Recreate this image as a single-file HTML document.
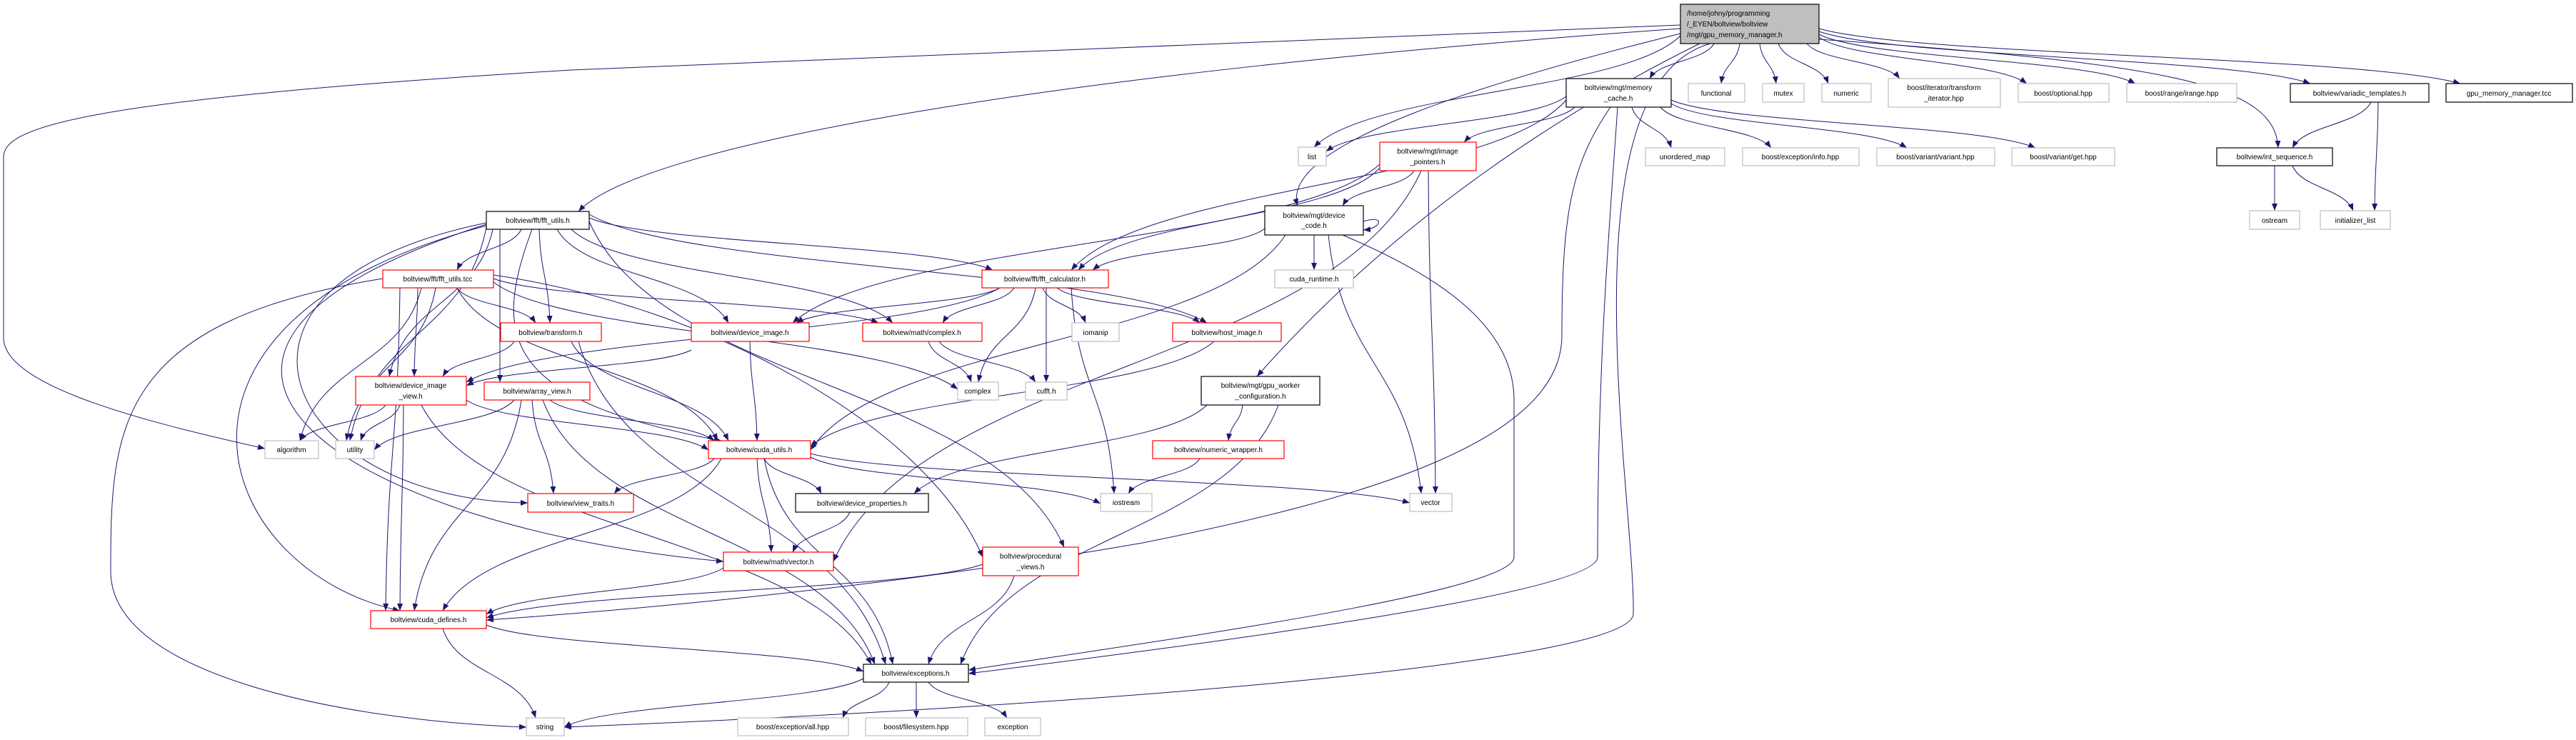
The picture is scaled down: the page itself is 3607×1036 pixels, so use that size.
<!DOCTYPE html>
<html><head><meta charset="utf-8"><style>
html,body{margin:0;padding:0;background:#fff;}
svg{display:block;}
text{font-family:"Liberation Sans",Arial,sans-serif;font-size:10px;fill:#000;}
</style></head><body>
<svg id="g" width="3607" height="1036" viewBox="0 0 3607 1036" xmlns="http://www.w3.org/2000/svg">
<defs><marker id="a" markerUnits="userSpaceOnUse" markerWidth="12" markerHeight="10" refX="10" refY="4" orient="auto"><path d="M0,0 L10,4 L0,8 z" fill="#191970"/></marker></defs>
<g id="edges" fill="none" stroke="#191970" stroke-width="1"></g>
<g id="nodes" stroke-width="1.2">
<rect x="2353" y="6" width="194" height="55" fill="#bfbfbf" stroke="#000"/>
<text x="2362" y="22">/home/johny/programming</text><text x="2362" y="37">/_EYEN/boltview/boltview</text><text x="2362" y="52">/mgt/gpu_memory_manager.h</text>

<rect x="2193" y="110" width="147" height="40" fill="#fff" stroke="#000"/><text x="2266" y="126" text-anchor="middle">boltview/mgt/memory</text><text x="2266" y="141" text-anchor="middle">_cache.h</text>
<rect x="2364" y="117" width="79" height="26" fill="#fff" stroke="#bfbfbf"/><text x="2403" y="134" text-anchor="middle">functional</text>
<rect x="2468" y="117" width="58" height="26" fill="#fff" stroke="#bfbfbf"/><text x="2497" y="134" text-anchor="middle">mutex</text>
<rect x="2551" y="117" width="69" height="26" fill="#fff" stroke="#bfbfbf"/><text x="2585" y="134" text-anchor="middle">numeric</text>
<rect x="2644" y="110" width="157" height="40" fill="#fff" stroke="#bfbfbf"/><text x="2722" y="126" text-anchor="middle">boost/iterator/transform</text><text x="2722" y="141" text-anchor="middle">_iterator.hpp</text>
<rect x="2826" y="117" width="127" height="26" fill="#fff" stroke="#bfbfbf"/><text x="2889" y="134" text-anchor="middle">boost/optional.hpp</text>
<rect x="2978" y="117" width="154" height="26" fill="#fff" stroke="#bfbfbf"/><text x="3055" y="134" text-anchor="middle">boost/range/irange.hpp</text>
<rect x="3207" y="117" width="194" height="26" fill="#fff" stroke="#000"/><text x="3304" y="134" text-anchor="middle">boltview/variadic_templates.h</text>
<rect x="3425" y="117" width="177" height="26" fill="#fff" stroke="#000"/><text x="3513" y="134" text-anchor="middle">gpu_memory_manager.tcc</text>

<rect x="1818" y="206" width="39" height="26" fill="#fff" stroke="#bfbfbf"/><text x="1837" y="223" text-anchor="middle">list</text>
<rect x="1932" y="199" width="135" height="40" fill="#fff" stroke="#f00"/><text x="1999" y="215" text-anchor="middle">boltview/mgt/image</text><text x="1999" y="230" text-anchor="middle">_pointers.h</text>
<rect x="2304" y="207" width="111" height="25" fill="#fff" stroke="#bfbfbf"/><text x="2359" y="223" text-anchor="middle">unordered_map</text>
<rect x="2440" y="207" width="163" height="25" fill="#fff" stroke="#bfbfbf"/><text x="2521" y="223" text-anchor="middle">boost/exception/info.hpp</text>
<rect x="2628" y="207" width="165" height="25" fill="#fff" stroke="#bfbfbf"/><text x="2710" y="223" text-anchor="middle">boost/variant/variant.hpp</text>
<rect x="2817" y="207" width="144" height="25" fill="#fff" stroke="#bfbfbf"/><text x="2889" y="223" text-anchor="middle">boost/variant/get.hpp</text>
<rect x="3104" y="207" width="162" height="25" fill="#fff" stroke="#000"/><text x="3185" y="223" text-anchor="middle">boltview/int_sequence.h</text>
<rect x="3150" y="295" width="70" height="26" fill="#fff" stroke="#bfbfbf"/><text x="3185" y="312" text-anchor="middle">ostream</text>
<rect x="3249" y="295" width="98" height="26" fill="#fff" stroke="#bfbfbf"/><text x="3298" y="312" text-anchor="middle">initializer_list</text>

<rect x="1771" y="288" width="138" height="41" fill="#fff" stroke="#000"/><text x="1840" y="305" text-anchor="middle">boltview/mgt/device</text><text x="1840" y="319" text-anchor="middle">_code.h</text>
<rect x="681" y="296" width="144" height="25" fill="#fff" stroke="#000"/><text x="753" y="312" text-anchor="middle">boltview/fft/fft_utils.h</text>
<rect x="536" y="378" width="155" height="25" fill="#fff" stroke="#f00"/><text x="613" y="394" text-anchor="middle">boltview/fft/fft_utils.tcc</text>
<rect x="1375" y="378" width="177" height="25" fill="#fff" stroke="#f00"/><text x="1463" y="394" text-anchor="middle">boltview/fft/fft_calculator.h</text>
<rect x="1785" y="378" width="110" height="25" fill="#fff" stroke="#bfbfbf"/><text x="1840" y="394" text-anchor="middle">cuda_runtime.h</text>

<rect x="701" y="452" width="141" height="26" fill="#fff" stroke="#f00"/><text x="771" y="469" text-anchor="middle">boltview/transform.h</text>
<rect x="968" y="452" width="165" height="26" fill="#fff" stroke="#f00"/><text x="1050" y="469" text-anchor="middle">boltview/device_image.h</text>
<rect x="1208" y="452" width="167" height="26" fill="#fff" stroke="#f00"/><text x="1291" y="469" text-anchor="middle">boltview/math/complex.h</text>
<rect x="1501" y="452" width="66" height="26" fill="#fff" stroke="#bfbfbf"/><text x="1534" y="469" text-anchor="middle">iomanip</text>
<rect x="1642" y="452" width="152" height="26" fill="#fff" stroke="#f00"/><text x="1718" y="469" text-anchor="middle">boltview/host_image.h</text>

<rect x="498" y="527" width="155" height="40" fill="#fff" stroke="#f00"/><text x="575" y="543" text-anchor="middle">boltview/device_image</text><text x="575" y="558" text-anchor="middle">_view.h</text>
<rect x="678" y="535" width="148" height="25" fill="#fff" stroke="#f00"/><text x="752" y="551" text-anchor="middle">boltview/array_view.h</text>
<rect x="1341" y="535" width="57" height="25" fill="#fff" stroke="#bfbfbf"/><text x="1369" y="551" text-anchor="middle">complex</text>
<rect x="1436" y="535" width="58" height="25" fill="#fff" stroke="#bfbfbf"/><text x="1465" y="551" text-anchor="middle">cufft.h</text>
<rect x="1682" y="527" width="166" height="40" fill="#fff" stroke="#000"/><text x="1765" y="543" text-anchor="middle">boltview/mgt/gpu_worker</text><text x="1765" y="558" text-anchor="middle">_configuration.h</text>

<rect x="371" y="617" width="75" height="25" fill="#fff" stroke="#bfbfbf"/><text x="408" y="633" text-anchor="middle">algorithm</text>
<rect x="470" y="617" width="54" height="25" fill="#fff" stroke="#bfbfbf"/><text x="497" y="633" text-anchor="middle">utility</text>
<rect x="992" y="617" width="143" height="25" fill="#fff" stroke="#f00"/><text x="1063" y="633" text-anchor="middle">boltview/cuda_utils.h</text>
<rect x="1614" y="617" width="184" height="25" fill="#fff" stroke="#f00"/><text x="1706" y="633" text-anchor="middle">boltview/numeric_wrapper.h</text>

<rect x="739" y="691" width="148" height="26" fill="#fff" stroke="#f00"/><text x="813" y="708" text-anchor="middle">boltview/view_traits.h</text>
<rect x="1114" y="691" width="186" height="26" fill="#fff" stroke="#000"/><text x="1207" y="708" text-anchor="middle">boltview/device_properties.h</text>
<rect x="1541" y="691" width="72" height="25" fill="#fff" stroke="#bfbfbf"/><text x="1577" y="707" text-anchor="middle">iostream</text>
<rect x="1974" y="691" width="59" height="25" fill="#fff" stroke="#bfbfbf"/><text x="2003" y="707" text-anchor="middle">vector</text>

<rect x="1013" y="773" width="154" height="26" fill="#fff" stroke="#f00"/><text x="1090" y="790" text-anchor="middle">boltview/math/vector.h</text>
<rect x="1376" y="766" width="134" height="40" fill="#fff" stroke="#f00"/><text x="1443" y="782" text-anchor="middle">boltview/procedural</text><text x="1443" y="797" text-anchor="middle">_views.h</text>
<rect x="519" y="855" width="162" height="25" fill="#fff" stroke="#f00"/><text x="600" y="871" text-anchor="middle">boltview/cuda_defines.h</text>
<rect x="1209" y="930" width="147" height="25" fill="#fff" stroke="#000"/><text x="1282" y="946" text-anchor="middle">boltview/exceptions.h</text>
<rect x="737" y="1005" width="53" height="25" fill="#fff" stroke="#bfbfbf"/><text x="763" y="1021" text-anchor="middle">string</text>
<rect x="1033" y="1005" width="155" height="25" fill="#fff" stroke="#bfbfbf"/><text x="1110" y="1021" text-anchor="middle">boost/exception/all.hpp</text>
<rect x="1212" y="1005" width="143" height="25" fill="#fff" stroke="#bfbfbf"/><text x="1283" y="1021" text-anchor="middle">boost/filesystem.hpp</text>
<rect x="1379" y="1005" width="78" height="25" fill="#fff" stroke="#bfbfbf"/><text x="1418" y="1021" text-anchor="middle">exception</text>
</g>
</svg>
<script>
var E=document.getElementById('edges'),NS='http://www.w3.org/2000/svg';
function P(d){var p=document.createElementNS(NS,'path');p.setAttribute('d',d);p.setAttribute('marker-end','url(#a)');E.appendChild(p);}
function e(x1,y1,x2,y2){var dx=x2-x1,dy=y2-y1;P('M'+x1+','+y1+' C'+(x1+dx*0.15)+','+(y1+dy*0.5)+' '+(x2-dx*0.15)+','+(y2-dy*0.5)+' '+x2+','+y2);}
var L=[
[2400,61,2310,110],[2436,61,2410,117],[2464,61,2487,117],[2490,61,2560,117],[2530,61,2660,110],
[2547,52,2838,117],[2547,48,2990,117],[2547,44,3235,117],[2547,40,3445,117],[2353,50,1840,206],
[2193,135,1857,212],[2205,150,2050,199],[2285,150,2340,207],[2325,150,2480,207],[2340,145,2670,207],[2340,140,2850,207],
[3320,143,3210,207],[3330,143,3325,295],[3185,232,3185,295],[3210,232,3295,295],
[730,321,640,378],[755,321,770,452],[780,321,1020,452],[800,321,1250,452],[825,305,1390,378],[825,300,1690,452],
[690,321,545,527],[700,321,700,535],[681,318,490,617],[825,310,1490,766],
[585,403,580,527],[640,403,750,452],[691,395,1341,545],[691,390,1230,452],[640,403,1005,617],[590,403,420,617],[610,403,485,617],[560,403,540,855],
[720,478,620,527],[800,478,1020,617],[810,478,1240,930],[1050,478,1060,617],[968,490,653,540],
[1300,478,1360,535],[1315,478,1450,535],[1400,403,1115,452],[1480,403,1680,452],[1420,403,1320,452],[1460,403,1520,452],[1465,403,1465,535],[1450,403,1370,535],[1400,403,653,535],[1500,403,1560,691],
[1771,320,1530,378],[1840,329,1840,378],[1860,329,1990,691],[1800,329,1135,630],
[1980,239,1880,288],[2000,239,2010,691],[1932,235,1510,378],[1990,239,1167,786],[1932,230,1110,452],[2193,140,1500,378],
[1700,478,1135,625],[1740,567,1720,617],[1790,567,1345,930],[1690,567,1280,691],[1680,642,1580,691],
[540,567,420,617],[560,567,505,617],[653,560,992,630],[565,567,560,855],[590,567,1220,930],
[720,560,524,630],[770,560,1000,617],[745,560,775,691],[730,560,580,855],[760,560,1225,930],
[1000,642,860,691],[1070,642,1150,691],[1135,640,1541,705],[1135,635,1974,704],[1060,642,1080,773],[1070,642,1250,930],[1010,642,620,855],
[1190,717,1110,773],[1013,795,681,860],[1376,790,681,865],[1420,806,1300,930],
[620,880,750,1005],[681,875,1209,940],[1209,950,790,1018],[1245,955,1180,1005],[1283,955,1283,1005],[1300,955,1410,1005]
];
L.forEach(function(a){e(a[0],a[1],a[2],a[3]);});
[
'M2353,35 L800,98 C100,140 5,180 5,220 L5,473 C5,540 200,590 371,628',
'M2353,40 C1500,100 900,200 810,296',
'M2353,47 C2100,110 1790,200 1817,288',
'M2380,61 C2200,150 1960,300 1760,527',
'M2547,55 C3050,90 3185,120 3190,207',
'M2395,61 C2185,120 2290,700 2287,860 C2280,930 1500,990 790,1018',
'M2265,150 C2255,300 2237,500 2237,780 C2237,830 1700,900 1356,943',
'M2255,150 C2200,230 2187,300 2187,470 C2187,620 1900,700 1600,760 C1200,830 800,860 681,868',
'M1880,329 C2000,380 2120,450 2120,560 L2120,780 C2120,830 1600,900 1356,938',
'M1909,310 C1940,300 1935,320 1909,322',
'M745,321 C690,470 700,560 1010,617',
'M681,312 C250,400 400,700 739,704',
'M681,316 C170,450 300,800 560,855',
'M681,314 C100,500 500,740 1013,786',
'M536,390 C160,450 155,600 155,800 C155,950 500,1010 737,1018',
'M691,385 C1000,430 1300,600 1376,780'
].forEach(P);
</script>
</body></html>
